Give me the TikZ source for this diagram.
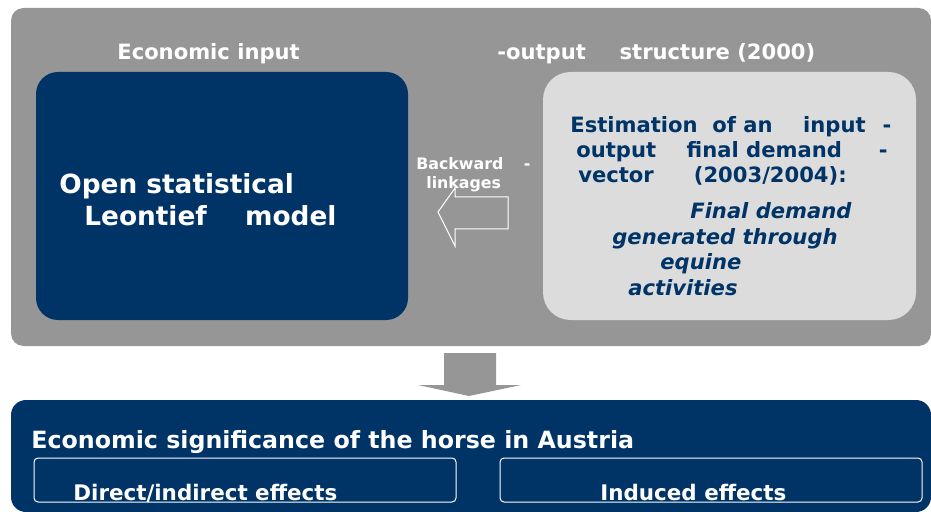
\documentclass[tikz,border=0pt]{standalone}
\usepackage{fontspec}
\setmainfont{DejaVu Sans}
\usetikzlibrary{calc}
\definecolor{ecoblue}{RGB}{0,51,102}
\definecolor{panelgray}{RGB}{150,150,150}
\definecolor{boxgray}{RGB}{220,220,220}
\tikzset{
	txt/.style={anchor=base west, inner sep=0pt, font=\bfseries\fontsize{12}{14}\selectfont},
	whitetxt/.style={txt, text=white},
	bluetxt/.style={txt, text=ecoblue},
	blueital/.style={bluetxt, font=\bfseries\itshape\fontsize{12}{14}\selectfont},
	bigtxt/.style={whitetxt, font=\bfseries\fontsize{15}{18}\selectfont},
	headtxt/.style={whitetxt, font=\bfseries\fontsize{13.5}{16}\selectfont},
	efftxt/.style={whitetxt, font=\bfseries\fontsize{12.2}{14}\selectfont},
	smalltxt/.style={whitetxt, font=\bfseries\fontsize{9}{11}\selectfont}
}

\begin{document}
\begin{tikzpicture}[x=0.2mm, y=-0.2mm]
		\useasboundingbox (0,0) rectangle (931,512);
		%%%%% START %%%%%
		
		% upper panel
		\draw[fill=panelgray, draw=none, rounded corners=2.5mm] (11, 8) rectangle (931, 346);
		\draw[fill=ecoblue, draw=none, rounded corners=4.4mm] (36, 72) rectangle (408, 320);
		\draw[fill=boxgray, draw=none, rounded corners=5.5mm] (543, 72) rectangle (916, 320);
		
		\node[whitetxt] (ioleft) at (117, 60) {Economic input};
		\node[whitetxt] (ioright) at (497, 60) {-output\hspace{1.6em}structure (2000)};
		
		\node[bigtxt] (open) at (59, 194) {Open statistical};
		\node[bigtxt] (leontief) at (84, 226) {Leontief\hspace{1.45em}model};
		
		% backward linkages
		\draw[white, line width=0.2mm] (438, 212) -- (455, 188) -- (455, 197) -- (508, 197) -- (508, 229) -- (455, 229) -- (455, 246) -- cycle;
		\node[smalltxt] (backw) at (416, 170) {Backward\hspace{1.3em}-};
		\node[smalltxt] (linkg) at (426, 189) {linkages};
		
		\node[bluetxt] (estim) at (570, 133) {Estimation\hspace{0.7em}of an\hspace{1.45em}input\hspace{0.8em}-};
		\node[bluetxt] (outp) at (576, 158) {output\hspace{1.45em}final demand\hspace{1.75em}-};
		\node[bluetxt] (vect) at (578, 183) {vector\hspace{1.9em}(2003/2004):};
		\node[blueital] (fdem) at (690, 219) {Final demand};
		\node[blueital] (gener) at (612, 245) {generated through};
		\node[blueital] (equin) at (660, 270) {equine};
		\node[blueital] (activ) at (628, 296) {activities};
		
		% down arrow
		\fill[panelgray] (444, 353) -- (496, 353) -- (496, 385) -- (521, 385) -- (469, 396) -- (418, 385) -- (444, 385) -- cycle;
		
		% lower panel
		\draw[fill=ecoblue, draw=none, rounded corners=3mm] (11, 400) rectangle (931, 512);
		\node[headtxt] (signif) at (31, 448) {Economic significance of the horse in Austria};
		\draw[white, line width=0.2mm, rounded corners=0.8mm] (34, 458) rectangle (456, 502);
		\draw[white, line width=0.2mm, rounded corners=0.8mm] (500, 458) rectangle (922, 502);
		\node[efftxt] (direct) at (73, 500) {Direct/indirect effects};
		\node[efftxt] (induced) at (600, 500) {Induced effects};
		
		%%%%% END %%%%%
	\end{tikzpicture}
\end{document}
